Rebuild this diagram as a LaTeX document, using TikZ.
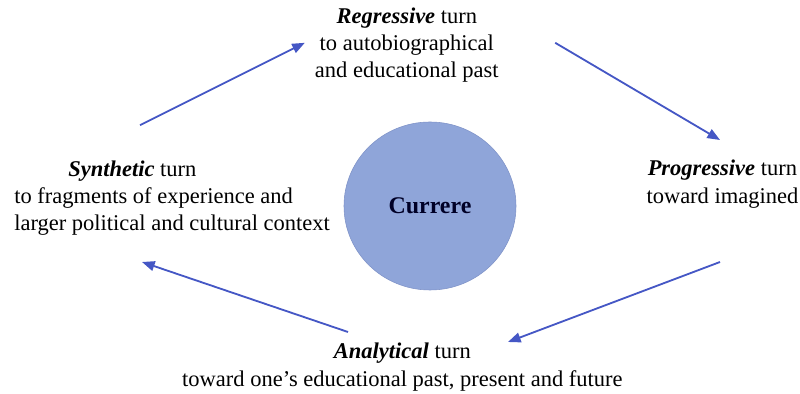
\documentclass[tikz,border=0pt]{standalone}
\usepackage{fontspec}
\setmainfont{Liberation Serif}
\usetikzlibrary{shapes.geometric,arrows.meta}

\definecolor{circfill}{HTML}{8FA5D9}
\definecolor{circline}{HTML}{7F93C8}
\definecolor{arrowblue}{HTML}{4557C5}

\begin{document}
\begin{tikzpicture}[
    turn/.style={align=center, font=\fontsize{16}{19.4}\selectfont},
    flow/.style={draw=arrowblue, line width=1.3pt, -{Triangle[length=9pt,width=7pt]}}
]
            \useasboundingbox (0,0) rectangle (20,9.85);

            \node[draw=circline, ellipse, fill=circfill, minimum width=4.3cm, minimum height=4.2cm, inner sep=0pt, font=\fontsize{17}{20}\selectfont\bfseries, text=black!85!blue] (cur) at (10.75,4.7) {Currere};

            \node[turn] (reg) at (10.17,8.72) {\textbf{\textit{Regressive}} turn\\to autobiographical\\and educational past};
            \node[turn] (prog) at (18.06,5.25) {\textbf{\textit{Progressive}} turn\\toward imagined};
            \node[turn] (ana) at (10.06,0.67) {\textbf{\textit{Analytical}} turn\\toward one’s educational past, present and future};
            \node[turn, align=left, anchor=west, inner sep=0pt] (syn) at (0.35,4.9) {\hspace*{1.35cm}\textbf{\textit{Synthetic}} turn\\to fragments of experience and\\larger political and cultural context};

            \coordinate (s1) at (3.5,6.72);
            \coordinate (e1) at (7.62,8.78);
            \coordinate (s2) at (13.88,8.78);
            \coordinate (e2) at (18.0,6.35);
            \coordinate (s3) at (18.0,3.3);
            \coordinate (e3) at (12.7,1.3);
            \coordinate (s4) at (8.7,1.55);
            \coordinate (e4) at (3.55,3.3);

            \draw[flow] (s1) -- (e1);
            \draw[flow] (s2) -- (e2);
            \draw[flow] (s3) -- (e3);
            \draw[flow] (s4) -- (e4);
        \end{tikzpicture}
\end{document}
